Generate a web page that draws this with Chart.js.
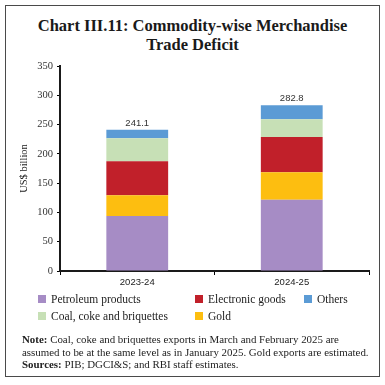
<!DOCTYPE html>
<html>
<head>
<meta charset="utf-8">
<script src="https://cdn.jsdelivr.net/npm/chart.js@4.4.1/dist/chart.umd.min.js"></script>
<style>
  html, body { margin: 0; padding: 0; background: #fff; }
  #wrap { position: relative; width: 385px; height: 385px; overflow: hidden; }
  #frame { position: absolute; left: 5px; top: 5px; width: 373px; height: 370px; border: 1.5px solid #4a4a4a; }
  #title { position: absolute; left: 0; top: 16px; width: 385px; text-align: center;
           font-family: "Liberation Serif", serif; font-weight: bold; font-size: 16.5px; line-height: 19px; color: #1a1a1a; }
  #chartBox { position: absolute; left: 0; top: 55px; width: 385px; height: 236px; }
  #legend { position: absolute; left: 0; top: 0; width: 385px; height: 385px; pointer-events: none;
            font-family: "Liberation Serif", serif; font-size: 11.5px; color: #222; }
  .li { position: absolute; white-space: nowrap; line-height: 14px; }
  .sw { display: inline-block; width: 8px; height: 8px; margin-right: 5px; vertical-align: 0px; }
  #note { position: absolute; left: 22px; top: 333px; font-family: "Liberation Serif", serif; font-size: 10.9px;
          line-height: 12.5px; color: #222; white-space: nowrap; }
</style>
</head>
<body>
<div id="wrap">
  <div id="frame"></div>
  <div id="title">Chart III.11: Commodity-wise Merchandise<br>Trade Deficit</div>
  <div id="chartBox"><canvas id="c" width="385" height="236"></canvas></div>
  <div id="legend"></div>
  <div id="note"><b>Note:</b> Coal, coke and briquettes exports in March and February 2025 are<br>assumed to be at the same level as in January 2025. Gold exports are estimated.<br><b>Sources:</b> PIB; DGCI&amp;S; and RBI staff estimates.</div>
</div>
<script>
const categories = ["2023-24", "2024-25"];
const petroleum = [93.9, 121.8];
const gold = [35.3, 46.6];
const electronic = [58.0, 60.3];
const coal = [39.3, 30.2];
const others = [14.6, 23.9];
const totals = [241.1, 282.8];
const yTicks = [0, 50, 100, 150, 200, 250, 300, 350];

const seriesNames = ["Petroleum products", "Gold", "Electronic goods", "Coal, coke and briquettes", "Others"];
const seriesColors = ["#A68CC5", "#FDBE10", "#C1202A", "#C7E0B6", "#5B9BD5"];
const seriesData = [petroleum, gold, electronic, coal, others];

const totalLabels = {
  id: 'totalLabels',
  afterDatasetsDraw(chart) {
    const ctx = chart.ctx;
    const y = chart.scales.y, x = chart.scales.x;
    ctx.save();
    ctx.font = '9.5px "Liberation Sans", sans-serif';
    ctx.fillStyle = '#333';
    ctx.textAlign = 'center';
    ctx.textBaseline = 'bottom';
    totals.forEach((t, i) => {
      ctx.fillText(t.toFixed(1), x.getPixelForValue(i), y.getPixelForValue(t) - 2);
    });
    ctx.restore();
  }
};

const chart = new Chart(document.getElementById('c'), {
  type: 'bar',
  data: {
    labels: categories,
    datasets: seriesNames.map((n, i) => ({
      label: n, data: seriesData[i], backgroundColor: seriesColors[i],
      borderWidth: 0, categoryPercentage: 1.0, barPercentage: 0.4
    }))
  },
  options: {
    responsive: false, animation: false, devicePixelRatio: 1,
    layout: { padding: { left: 14, right: 16, top: 11, bottom: 0 } },
    plugins: { legend: { display: false }, tooltip: { enabled: false } },
    scales: {
      x: {
        stacked: true,
        grid: { display: true, drawOnChartArea: false, drawTicks: true, tickLength: 4, color: '#000', offset: true },
        border: { display: true, color: '#1a1a1a', width: 2 },
        ticks: { color: '#222', font: { family: '"Liberation Sans", sans-serif', size: 9.5 }, padding: 2 },
        afterFit(s) { s.height = 20; }
      },
      y: {
        stacked: true, min: 0, max: 350,
        afterBuildTicks(s) { s.ticks = yTicks.map(v => ({ value: v })); },
        grid: { display: true, drawOnChartArea: false, drawTicks: true, tickLength: 3, color: '#000' },
        border: { display: true, color: '#1a1a1a', width: 2 },
        ticks: { color: '#333', font: { family: '"Liberation Serif", serif', size: 10.5 }, padding: 4 },
        title: { display: true, text: 'US$ billion', color: '#222', font: { family: '"Liberation Serif", serif', size: 10.5 }, padding: { top: 4, bottom: 0 } },
        afterFit(s) { s.width = 46; }
      }
    }
  },
  plugins: [totalLabels]
});

// Legend built from the chart's datasets, laid out in the reference's order
const legendOrder = [
  { idx: 0, x: 38, y: 292 }, { idx: 2, x: 195, y: 292 }, { idx: 4, x: 304, y: 292 },
  { idx: 3, x: 38, y: 309 }, { idx: 1, x: 195, y: 309 }
];
const lg = document.getElementById('legend');
legendOrder.forEach(o => {
  const ds = chart.data.datasets[o.idx];
  const d = document.createElement('div');
  d.className = 'li';
  d.style.left = o.x + 'px'; d.style.top = o.y + 'px';
  d.innerHTML = '<span class="sw" style="background:' + ds.backgroundColor + '"></span>' + ds.label;
  lg.appendChild(d);
});
</script>
</body>
</html>
